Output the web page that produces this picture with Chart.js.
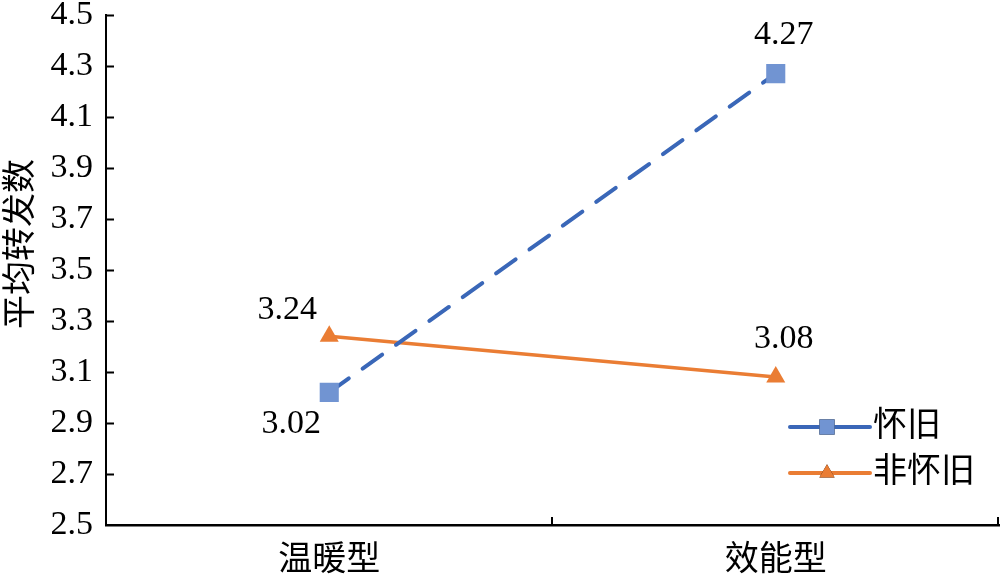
<!DOCTYPE html>
<html>
<head>
<meta charset="utf-8">
<script src="https://cdn.jsdelivr.net/npm/chart.js@4/dist/chart.umd.min.js"></script>
<style>
  html, body { margin: 0; padding: 0; background: #fff; }
  #wrap { width: 1000px; height: 580px; }
</style>
</head>
<body>
<div id="wrap"><canvas id="chart" width="1000" height="580"></canvas></div>
<script>
// data
const categories = ['温暖型', '效能型'];
const nostalgia = [3.02, 4.27];
const nonNostalgia = [3.24, 3.08];
const seriesNames = ['怀旧', '非怀旧'];
const yTickValues = [2.5, 2.7, 2.9, 3.1, 3.3, 3.5, 3.7, 3.9, 4.1, 4.3, 4.5];
const yTitle = '平均转发数';

const FONT = "'Liberation Serif', 'Times New Roman', 'Noto Sans CJK SC', serif";
const BLUE_LINE = '#3a67b8';
const BLUE_MARK = '#7194d2';
const ORANGE = '#ea7d34';

// where each value label sits relative to its point
const labelOffsets = [
    [[-38, 32], [8, -39]],
    [[-42, -26], [8, -38]]
];

const valueLabels = {
    id: 'valueLabels',
    afterDatasetsDraw(chart) {
        const ctx = chart.ctx;
        ctx.save();
        ctx.font = '34px ' + FONT;
        ctx.fillStyle = '#000';
        ctx.textAlign = 'center';
        ctx.textBaseline = 'middle';
        chart.data.datasets.forEach((ds, i) => {
            chart.getDatasetMeta(i).data.forEach((pt, j) => {
                const off = labelOffsets[i][j];
                ctx.fillText(ds.data[j].toFixed(2), pt.x + off[0], pt.y + off[1]);
            });
        });
        ctx.restore();
    }
};

// short tick marks pointing into the plot, plus y title and legend
const decorations = {
    id: 'decorations',
    afterDraw(chart) {
        const ctx = chart.ctx;
        const area = chart.chartArea;
        const x = chart.scales.x, y = chart.scales.y;
        ctx.save();
        ctx.strokeStyle = '#000';
        ctx.lineWidth = 2;
        ctx.beginPath();
        y.ticks.forEach((t, i) => {
            if (i === 0) return;
            const py = Math.round(y.getPixelForTick(i)) + 0.5;
            ctx.moveTo(area.left, py);
            ctx.lineTo(area.left + 8, py);
        });
        const step = x.getPixelForValue(1) - x.getPixelForValue(0);
        categories.forEach((c, i) => {
            const px = Math.round(x.getPixelForValue(i) + step / 2) - 1;
            ctx.moveTo(px, area.bottom);
            ctx.lineTo(px, area.bottom - 8);
        });
        ctx.stroke();

        // y axis title
        ctx.fillStyle = '#000';
        ctx.font = '34px ' + FONT;
        ctx.textAlign = 'center';
        ctx.textBaseline = 'middle';
        ctx.translate(22, (area.top + area.bottom) / 2 - 26);
        ctx.rotate(-Math.PI / 2);
        ctx.fillText(yTitle, 0, 0);
        ctx.restore();

        // legend in the lower right of the plot
        ctx.save();
        const lx = 790, lw = 80, tx = 873;
        const rows = [427, 473];
        ctx.font = '34px ' + FONT;
        ctx.textBaseline = 'middle';
        ctx.fillStyle = '#000';
        chart.data.datasets.forEach((ds, i) => {
            const ly = rows[i];
            ctx.strokeStyle = ds.borderColor;
            ctx.lineWidth = 4;
            ctx.lineCap = 'round';
            ctx.beginPath();
            ctx.moveTo(lx, ly);
            ctx.lineTo(lx + lw, ly);
            ctx.stroke();
            Chart.helpers.drawPoint(ctx, {
                pointStyle: ds.pointStyle,
                radius: ds.pointRadius * 0.8,
                borderWidth: 0
            }, lx + lw / 2 - 3, ly);
            ctx.fillStyle = ds.pointBackgroundColor;
            ctx.fill();
            ctx.fillStyle = '#000';
            ctx.fillText(ds.label, tx, ly);
        });
        ctx.restore();
    }
};

new Chart(document.getElementById('chart'), {
    type: 'line',
    data: {
        labels: categories,
        datasets: [{
            label: seriesNames[0],
            data: nostalgia,
            borderColor: BLUE_LINE,
            borderWidth: 4,
            borderDash: [24, 17],
            borderCapStyle: 'round',
            pointStyle: 'rect',
            pointRadius: 13.5,
            pointHoverRadius: 13.5,
            pointBackgroundColor: BLUE_MARK,
            pointBorderWidth: 0,
            tension: 0
        }, {
            label: seriesNames[1],
            data: nonNostalgia,
            borderColor: ORANGE,
            borderWidth: 3.5,
            pointStyle: 'triangle',
            pointRadius: 11,
            pointHoverRadius: 11,
            pointBackgroundColor: ORANGE,
            pointBorderWidth: 0,
            tension: 0
        }]
    },
    options: {
        responsive: false,
        animation: false,
        layout: { autoPadding: false, padding: { top: 15, right: 1, left: 0, bottom: 0 } },
        plugins: {
            legend: { display: false },
            tooltip: { enabled: false }
        },
        scales: {
            x: {
                offset: true,
                grid: { display: false, drawTicks: false },
                border: { display: true, color: '#000', width: 2.5 },
                ticks: {
                    color: '#000',
                    padding: 16,
                    font: { family: FONT, size: 34 }
                },
                afterFit(scale) {
                    scale.height = 55;
                    scale.paddingLeft = 0;
                    scale.paddingRight = 0;
                }
            },
            y: {
                min: 2.5,
                max: 4.5,
                grid: { display: false, drawTicks: false },
                border: { display: true, color: '#000', width: 2 },
                afterBuildTicks(scale) {
                    scale.ticks = yTickValues.map(v => ({ value: v }));
                },
                ticks: {
                    color: '#000',
                    padding: 13,
                    font: { family: FONT, size: 34 },
                    callback: v => v.toFixed(1)
                },
                afterFit(scale) {
                    scale.width = 106;
                    scale.paddingTop = 0;
                    scale.paddingBottom = 0;
                }
            }
        }
    },
    plugins: [valueLabels, decorations]
});
</script>
</body>
</html>
